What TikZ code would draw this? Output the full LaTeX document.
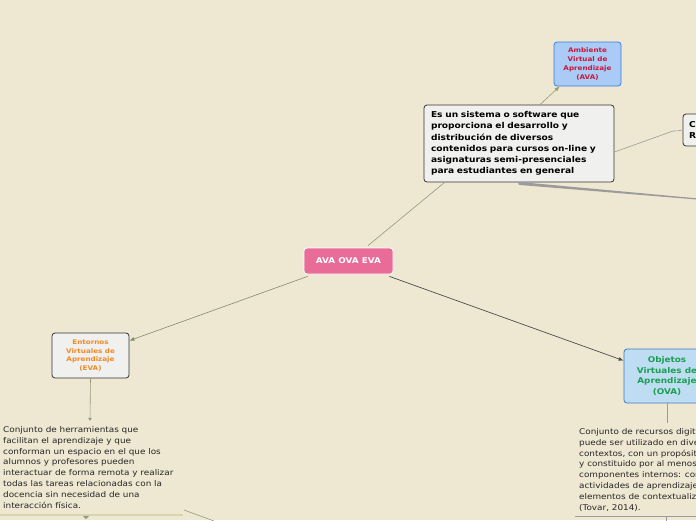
\documentclass[tikz,border=0pt]{standalone}
\usepackage{fontspec}
\setmainfont{DejaVu Sans}[FakeStretch=1.12]
\usetikzlibrary{arrows.meta,calc}
\definecolor{bg}{RGB}{238,231,209}
\definecolor{olive}{RGB}{150,155,115}
\definecolor{pinkc}{RGB}{233,107,152}
\definecolor{boxgray}{RGB}{240,240,238}
\definecolor{avafill}{RGB}{169,203,245}
\definecolor{avaborder}{RGB}{59,125,221}
\definecolor{avatext}{RGB}{200,24,60}
\definecolor{evatext}{RGB}{240,138,36}
\definecolor{ovafill}{RGB}{190,220,242}
\definecolor{ovaborder}{RGB}{62,124,196}
\definecolor{ovatext}{RGB}{24,160,80}
\definecolor{linegray}{RGB}{155,155,155}
\definecolor{ulolive}{RGB}{216,212,176}
\tikzset{
  x=1pt,y=-1pt,
  basebox/.style={draw,rounded corners=3pt,line width=0.8pt,inner sep=2pt,font=\bfseries,align=center},
  graybox/.style={basebox,fill=boxgray,draw=black!80},
  bluebox/.style={basebox,fill=avafill,draw=avaborder,text=avatext},
  ovabox/.style={basebox,fill=ovafill,draw=ovaborder,text=ovatext},
  bodytext/.style={inner sep=0pt,anchor=north west,align=left,font=\fontsize{7.9}{10.9}\selectfont,text=black!85},
  oline/.style={draw=olive,line width=0.6pt},
  arr/.style={-{Latex[length=5pt,width=4pt]}},
}
\begin{document}
\begin{tikzpicture}
\clip (0,0) rectangle (696,520);
\fill[bg] (0,0) rectangle (696,520);
\useasboundingbox (0,0) rectangle (696,520);

% nodes
\node[basebox,fill=pinkc,draw=white,text=white,minimum width=89pt,minimum height=26pt,font=\bfseries\fontsize{7.9}{9}\selectfont] (center) at (348.5,261) {AVA OVA EVA};
\node[graybox,minimum width=190pt,minimum height=77pt,align=left,text width=176pt,font=\bfseries\fontsize{8.1}{11.2}\selectfont] (top) at (519,143.5) {Es un sistema o software que\\proporciona el desarrollo y\\distribución de diversos\\contenidos para cursos on-line y\\asignaturas semi-presenciales\\para estudiantes en general};
\node[bluebox,minimum width=67pt,minimum height=44pt,font=\bfseries\fontsize{6.4}{8.7}\selectfont] (ava) at (587.5,64) {Ambiente\\Virtual de\\Aprendizaje\\(AVA)};
\node[graybox,minimum width=58pt,minimum height=32pt,align=left,text width=46pt,font=\bfseries\fontsize{8.1}{11.2}\selectfont] (right) at (712,130) {C\\R};
\node[graybox,minimum width=77pt,minimum height=45pt,text=evatext,font=\bfseries\fontsize{6.4}{8.7}\selectfont] (eva) at (90.5,355.5) {Entornos\\Virtuales de\\Aprendizaje\\(EVA)};
\node[ovabox,minimum width=86pt,minimum height=54pt,font=\bfseries\fontsize{7.9}{10.7}\selectfont] (ova) at (667,376) {Objetos\\Virtuales de\\Aprendizaje\\(OVA)};

\node[bodytext] (evatxt) at (3,426) {Conjunto de herramientas que\\facilitan el aprendizaje y que\\conforman un espacio en el que los\\alumnos y profesores pueden\\interactuar de forma remota y realizar\\todas las tareas relacionadas con la\\docencia sin necesidad de una\\interacción física.};
\node[bodytext] (ovatxt) at (579,428) {Conjunto de recursos digitales que\\puede ser utilizado en diversos\\contextos, con un propósito educativo\\y constituido por al menos tres\\componentes internos: contenidos,\\actividades de aprendizaje y\\elementos de contextualización\\(Tovar, 2014).};

% coordinates
\coordinate (rt) at (700,199);
\coordinate (rbend) at (673,131);
\coordinate (evaend) at (90,421);
\coordinate (ovaend) at (667,423);
\coordinate (ul1a) at (0,515);
\coordinate (ul1b) at (183,515);
\coordinate (dg1) at (184,510);
\coordinate (dg2) at (214,521);
\coordinate (ul2a) at (575,516);
\coordinate (ul2b) at (700,516);
\coordinate (tk1) at (666,516);
\coordinate (tk2) at (666,522);

% connectors
\draw[oline] ($(center.north)+(19.5,-2)$) -- ($(top.south west)+(21,0)$);
\draw[oline,arr] ($(top.north)+(21,0)$) -- ($(ava.south west)+(6,0)$);
\draw[linegray,line width=0.6pt] ($(top.east)+(0,8.5)$) -- (rbend) to[out=-15,in=180] (right.west);
\fill[linegray] ($(top.south)+(-1,0)$) -- ($(top.south)+(5,0)$) -- ($(rt)+(0,-0.4)$) -- ($(rt)+(0,0.8)$) -- ($(top.south)+(0,2.5)$) -- cycle;
\draw[draw=olive!90!black,line width=0.6pt,arr] ($(center.south west)+(4,2)$) -- ($(eva.north east)+(0,8)$);
\draw[draw=black!70,line width=0.7pt,arr] ($(center.south east)+(-4,2)$) -- ($(ova.north west)+(0,12)$);
\draw[oline,-{Latex[length=3pt,width=4pt]}] (eva.south) -- (evaend);
\draw[linegray,line width=0.7pt] (ova.south) -- (ovaend);
\draw[ulolive,line width=2pt] (ul1a) -- (ul1b);
\fill[olive] (83,516) -- (89,516) -- (86,519) -- cycle;
\draw[oline] (dg1) -- (dg2);
\draw[linegray,line width=0.8pt] (ul2a) -- (ul2b);
\draw[linegray,line width=0.8pt] (tk1) -- (tk2);
\end{tikzpicture}
\end{document}
